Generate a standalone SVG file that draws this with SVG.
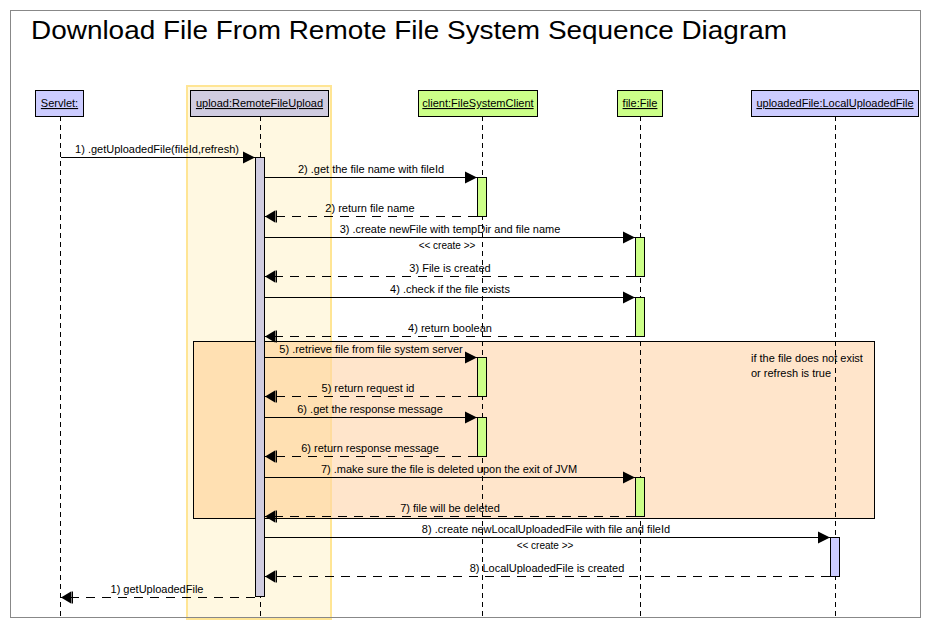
<svg xmlns="http://www.w3.org/2000/svg" width="930" height="627" viewBox="0 0 930 627">
<style>
text{font-family:"Liberation Sans",Arial,sans-serif;fill:#000}
.lbl{font-size:11px;text-anchor:middle}
.st{font-size:10px;text-anchor:middle}
.head{font-size:11px;text-anchor:middle;text-decoration:underline}
.box{stroke:#000;stroke-width:1}
.life{stroke:#000;stroke-width:1;stroke-dasharray:5,4;fill:none}
.msg{stroke:#000;stroke-width:1;fill:none;marker-end:url(#sync)}
.ret{stroke:#000;stroke-width:1;fill:none;stroke-dasharray:9,7;marker-end:url(#ret)}
.lav{fill:#CCCCFF}
.gry{fill:#D0CCE0}
.grn{fill:#CCFF88}
</style>
<defs>
<marker id="sync" markerUnits="userSpaceOnUse" markerWidth="14" markerHeight="14" refX="12" refY="6" orient="auto" overflow="visible">
<path d="M0,0 L12,6 L0,12 Z" fill="#000" stroke="none"/>
</marker>
<marker id="ret" markerUnits="userSpaceOnUse" markerWidth="14" markerHeight="14" refX="12" refY="6" orient="auto" overflow="visible">
<path d="M2,0 L12,6 L2,12 Z" fill="#000" stroke="none"/>
<rect x="0" y="0" width="1.5" height="12" fill="#000"/>
</marker>
</defs>
<rect x="0" y="0" width="930" height="627" fill="#fff"/>
<text x="31" y="39" font-size="26" textLength="756" lengthAdjust="spacingAndGlyphs">Download File From Remote File System Sequence Diagram</text>

<rect id="highlight" x="187" y="86" width="144" height="533" fill="#FFF8E1" stroke="#FFE594" stroke-width="2"/>

<g id="fragment">
<rect x="193.5" y="341.5" width="681" height="177" fill="#FFE5CB" stroke="#000" stroke-width="1"/>
<rect x="194" y="342" width="136" height="176" fill="#FFE0B2"/>
<line x1="331" y1="342" x2="331" y2="518" stroke="#FFD98F" stroke-width="1.5"/>
<text x="751" y="362" font-size="11">if the file does not exist</text>
<text x="751" y="377" font-size="11">or refresh is true</text>
</g>

<g id="lifelines">
<line class="life" x1="60.5" y1="116" x2="60.5" y2="617"/>
<line class="life" x1="260.5" y1="116" x2="260.5" y2="617"/>
<line class="life" x1="482.5" y1="116" x2="482.5" y2="617"/>
<line class="life" x1="640.5" y1="116" x2="640.5" y2="617"/>
<line class="life" x1="835.5" y1="116" x2="835.5" y2="617"/>
</g>

<g id="servlet">
<rect class="box lav" x="35.5" y="90.5" width="48" height="26"/>
<text class="head" x="59.5" y="107">Servlet:</text>
</g>
<g id="upload">
<rect class="box gry" x="190.5" y="90.5" width="138" height="26"/>
<text class="head" x="259.5" y="107">upload:RemoteFileUpload</text>
<rect class="box gry" x="255.5" y="157.5" width="9" height="439"/>
</g>
<g id="client">
<rect class="box grn" x="418.5" y="90.5" width="119" height="26"/>
<text class="head" x="478" y="107">client:FileSystemClient</text>
<rect class="box grn" x="477.5" y="177.5" width="9" height="39"/>
<rect class="box grn" x="477.5" y="357.5" width="9" height="39"/>
<rect class="box grn" x="477.5" y="417.5" width="9" height="39"/>
</g>
<g id="file">
<rect class="box grn" x="617.5" y="90.5" width="45" height="26"/>
<text class="head" x="640" y="107">file:File</text>
<rect class="box grn" x="635.5" y="237.5" width="9" height="39"/>
<rect class="box grn" x="635.5" y="297.5" width="9" height="39"/>
<rect class="box grn" x="635.5" y="477.5" width="9" height="39"/>
</g>
<g id="uploadedFile">
<rect class="box lav" x="751.5" y="90.5" width="167" height="26"/>
<text class="head" x="835" y="107">uploadedFile:LocalUploadedFile</text>
<rect class="box lav" x="830.5" y="537.5" width="9" height="39"/>
</g>

<g id="connectors">
<line class="msg" x1="61" y1="157.5" x2="255" y2="157.5"/>
<text class="lbl" x="157" y="153">1) .getUploadedFile(fileId,refresh)</text>

<line class="msg" x1="265" y1="177.5" x2="477" y2="177.5"/>
<text class="lbl" x="371" y="173">2) .get the file name with fileId</text>
<line class="ret" x1="477" y1="216.5" x2="265" y2="216.5"/>
<text class="lbl" x="370" y="212">2) return file name</text>

<line class="msg" x1="265" y1="237.5" x2="635" y2="237.5"/>
<text class="lbl" x="450" y="233">3) .create newFile with tempDir and file name</text>
<text class="st" x="447" y="249">&lt;&lt; create &gt;&gt;</text>
<line class="ret" x1="635" y1="276.5" x2="265" y2="276.5"/>
<text class="lbl" x="450" y="272">3) File is created</text>

<line class="msg" x1="265" y1="297.5" x2="635" y2="297.5"/>
<text class="lbl" x="450" y="293">4) .check if the file exists</text>
<line class="ret" x1="635" y1="336.5" x2="265" y2="336.5"/>
<text class="lbl" x="450" y="332">4) return boolean</text>

<line class="msg" x1="265" y1="357.5" x2="477" y2="357.5"/>
<text class="lbl" x="371" y="353">5) .retrieve file from file system server</text>
<line class="ret" x1="477" y1="396.5" x2="265" y2="396.5"/>
<text class="lbl" x="368" y="392">5) return request id</text>

<line class="msg" x1="265" y1="417.5" x2="477" y2="417.5"/>
<text class="lbl" x="370" y="413">6) .get the response message</text>
<line class="ret" x1="477" y1="456.5" x2="265" y2="456.5"/>
<text class="lbl" x="370" y="452">6) return response message</text>

<line class="msg" x1="265" y1="477.5" x2="635" y2="477.5"/>
<text class="lbl" x="449" y="473">7) .make sure the file is deleted upon the exit of JVM</text>
<line class="ret" x1="635" y1="516.5" x2="265" y2="516.5"/>
<text class="lbl" x="450" y="512">7) file will be deleted</text>

<line class="msg" x1="265" y1="537.5" x2="830" y2="537.5"/>
<text class="lbl" x="546" y="533">8) .create newLocalUploadedFile with file and fileId</text>
<text class="st" x="545" y="549">&lt;&lt; create &gt;&gt;</text>
<line class="ret" x1="830" y1="576.5" x2="265" y2="576.5"/>
<text class="lbl" x="547" y="572">8) LocalUploadedFile is created</text>

<line class="ret" x1="255" y1="597.5" x2="61" y2="597.5"/>
<text class="lbl" x="157" y="593">1) getUploadedFile</text>
</g>

<rect id="frame" x="10.5" y="10.5" width="910" height="607" fill="none" stroke="#888" stroke-width="1"/>
</svg>
